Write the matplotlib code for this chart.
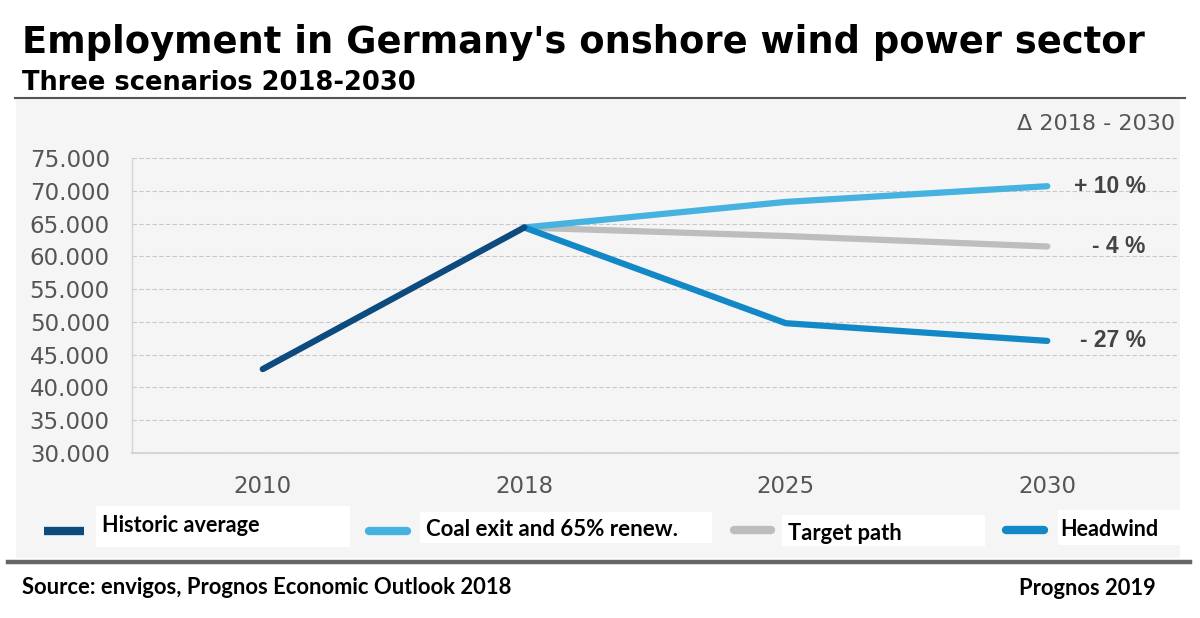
import matplotlib
matplotlib.use("Agg")
import matplotlib.pyplot as plt
from matplotlib.lines import Line2D
from matplotlib.patches import Rectangle

# ---- data ----
years = ["2010", "2018", "2025", "2030"]
historic = [42800, 64400]                 # 2010, 2018
coal_exit = [64400, 68300, 70700]         # 2018, 2025, 2030
target_path = [64400, 63100, 61500]       # 2018, 2025, 2030
headwind = [64400, 49800, 47100]          # 2018, 2025, 2030
delta_labels = ["+ 10 %", "- 4 %", "- 27 %"]
series_names = ["Historic average", "Coal exit and 65% renew.", "Target path", "Headwind"]
y_ticks = [30000, 35000, 40000, 45000, 50000, 55000, 60000, 65000, 70000, 75000]

c_hist = "#0d4a7e"
c_coal = "#45b2df"
c_target = "#bdbdbd"
c_head = "#1289c6"

FONT = ["DejaVu Sans"]
LAB = ["Liberation Sans", "DejaVu Sans"]
NARROW = ["Lato", "DejaVu Sans"]

W, H = 1200, 618
fig = plt.figure(figsize=(12, 6.18), dpi=100)
fig.patch.set_facecolor("white")

def fx(px):
    return px / W

def fy(py):
    return 1 - py / H

# panel background
fig.patches.append(Rectangle((fx(16), fy(558)), fx(1180) - fx(16), fy(99) - fy(558),
                             transform=fig.transFigure, facecolor="#f5f5f5", edgecolor="none",
                             zorder=-10))
# rules
fig.lines.append(Line2D([fx(15), fx(1185)], [fy(98), fy(98)], transform=fig.transFigure,
                        color="#555555", lw=1.5))
fig.lines.append(Line2D([fx(8), fx(1190)], [fy(562), fy(562)], transform=fig.transFigure,
                        color="#666666", lw=3.2))

# axes
ax = fig.add_axes([fx(132), fy(453), fx(1178) - fx(132), fy(158) - fy(453)])
ax.set_zorder(2)
ax.set_facecolor("none")
ax.set_xlim(-0.5, 3.5)
ax.set_ylim(30000, 75000)
ax.set_yticks(y_ticks)
ax.set_yticklabels([f"{v:,}".replace(",", ".") for v in y_ticks])
ax.set_xticks(range(len(years)))
ax.set_xticklabels(years)
ax.tick_params(length=0, labelsize=16.5, labelcolor="#555555")
ax.tick_params(axis="y", pad=16)
ax.tick_params(axis="x", pad=16)
for lab in ax.get_yticklabels() + ax.get_xticklabels():
    lab.set_family(FONT)
ax.grid(axis="y", color="#c8c8c8", linestyle=(0, (4, 2)), lw=0.8)
ax.set_axisbelow(True)
for s in ["top", "right"]:
    ax.spines[s].set_visible(False)
ax.spines["left"].set_color("#d5d5d5")
ax.spines["bottom"].set_color("#d0d0d0")
ax.spines["left"].set_linewidth(1)
ax.spines["bottom"].set_linewidth(1.2)

lw = 4.5
ax.plot([0, 1], historic, color=c_hist, lw=lw, solid_capstyle="round", zorder=5)
ax.plot([1, 2, 3], target_path, color=c_target, lw=lw, solid_capstyle="round", zorder=3)
ax.plot([1, 2, 3], coal_exit, color=c_coal, lw=lw, solid_capstyle="round", zorder=4)
ax.plot([1, 2, 3], headwind, color=c_head, lw=lw, solid_capstyle="round", zorder=4)

for val, txt in zip([coal_exit[-1], target_path[-1], headwind[-1]], delta_labels):
    ax.annotate(txt, xy=(3, val), xytext=(71, 0), textcoords="offset points",
                ha="right", va="center", fontsize=16.5, fontweight="bold", color="#444444",
                family=LAB, annotation_clip=False)

fig.text(fx(1175), fy(124), "Δ 2018 - 2030", ha="right", va="center", fontsize=16,
         color="#555555", family=FONT)

# titles
title = fig.text(fx(22), fy(53), "Employment in Germany's onshore wind power sector",
                 ha="left", va="baseline", fontsize=34, fontweight="bold", color="black",
                 family=FONT)
sub = fig.text(fx(22), fy(90), "Three scenarios 2018-2030", ha="left", va="baseline",
               fontsize=20, fontweight="bold", color="black", family=FONT)
src = fig.text(fx(22), fy(594), "Source: envigos, Prognos Economic Outlook 2018", ha="left",
               va="baseline", fontsize=14, fontweight="bold", color="black", family=NARROW)
prog = fig.text(fx(1156), fy(595), "Prognos 2019", ha="right", va="baseline", fontsize=14,
                fontweight="bold", color="black", family=NARROW)

# legend (manual): marker x0, x1, y ; box x0, y0, x1, y1 ; text x, y, width
leg = [
    (44, 84, 531, (96, 506, 350, 547), 102, 525, 158, c_hist, "butt"),
    (369, 407, 531, (420, 512, 712, 543), 426, 530, 253, c_coal, "round"),
    (734, 771, 530, (782, 515, 985, 546), 788, 533, 115, c_target, "round"),
    (1006, 1044, 530, (1058, 510, 1180, 545), 1060, 529, 99, c_head, "round"),
]
leg_texts = []
for (x0, x1, ly, box, tx, ty, tw, col, cap), name in zip(leg, series_names):
    bx0, by0, bx1, by1 = box
    fig.patches.append(Rectangle((fx(bx0), fy(by1)), fx(bx1) - fx(bx0), fy(by0) - fy(by1),
                                 transform=fig.transFigure, facecolor="white",
                                 edgecolor="none", zorder=-5))
    fig.lines.append(Line2D([fx(x0), fx(x1)], [fy(ly), fy(ly)], transform=fig.transFigure,
                            color=col, lw=6, solid_capstyle=cap))
    t = fig.text(fx(tx), fy(ty), name, ha="left", va="center", fontsize=14, fontweight="bold",
                 color="black", family=NARROW)
    leg_texts.append((t, tw))

# fit text widths to reference
fig.canvas.draw()
r = fig.canvas.get_renderer()
for t, target_w in [(title, 1123), (sub, 395), (src, 491), (prog, 137)] + leg_texts:
    w = t.get_window_extent(r).width
    t.set_fontsize(t.get_fontsize() * target_w / w)

fig.savefig("out.png", dpi=100)
